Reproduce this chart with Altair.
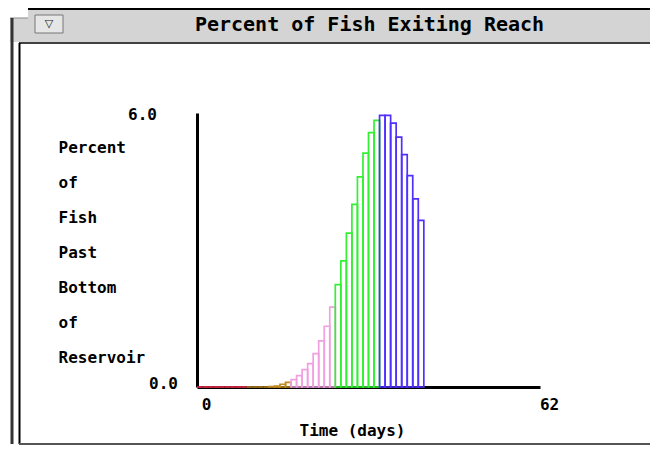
import altair as alt
import pandas as pd

# ---- data ----
days = [0, 1, 2, 3, 4, 5, 6, 7, 8, 9, 10, 11, 12, 13, 14, 15, 16, 17, 18, 19, 20,
        21, 22, 23, 24, 25, 26, 27, 28, 29, 30, 31, 32, 33, 34, 35, 36, 37, 38, 39, 40]
percent = [0.0, 0.0, 0.0, 0.0, 0.0, 0.0, 0.0, 0.0, 0.0, 0.0, 0.0, 0.0, 0.0, 0.01, 0.02,
           0.06, 0.10,
           0.16, 0.25, 0.38, 0.51, 0.73, 1.01, 1.33, 1.75,
           2.24, 2.76, 3.37, 4.00, 4.60, 5.12, 5.57, 5.84,
           5.95, 5.95, 5.78, 5.47, 5.09, 4.63, 4.12, 3.65]
stage = ["a", "a", "a", "a", "a", "a", "a", "a", "a",
         "b", "b", "b", "b", "b", "b", "b", "b",
         "c", "c", "c", "c", "c", "c", "c", "c",
         "d", "d", "d", "d", "d", "d", "d", "d",
         "e", "e", "e", "e", "e", "e", "e", "e"]
stage_names = ["a", "b", "c", "d", "e"]
stage_colors = ["#ff3055", "#c08a20", "#f0a0e0", "#33f033", "#5030ff"]

x_ticks = [0, 62]
y_tick_values = [0.0, 6.0]
y_tick_labels = ["0.0", "6.0"]
y_title_lines = ["Percent", "of", "Fish", "Past", "Bottom", "of", "Reservoir"]
x_title = "Time (days)"
chart_title = "Percent of Fish Exiting Reach"

FONT = "DejaVu Sans Mono"
FS = 16
W, H = 343, 274

df = pd.DataFrame({"day": days, "pct": percent, "stage": stage})
one = pd.DataFrame({"k": [0]})

xscale = alt.Scale(domain=[0, 62], nice=False, zero=True)
yscale = alt.Scale(domain=[0, 6], nice=False, zero=True)

y_axis = alt.Axis(
    values=y_tick_values, ticks=False, grid=False, labels=False,
    domainColor="black", domainWidth=3,
    title=y_title_lines, titleFont=FONT, titleFontWeight="bold", titleFontSize=FS,
    titleColor="black", titleAngle=0, titleAlign="left", titleBaseline="alphabetic",
    titleX=-139, titleY=39, titleLineHeight=35)

bars = alt.Chart(df).transform_calculate(
    day_end="datum.day + 1"
).mark_rect(fillOpacity=0, strokeWidth=1.7).encode(
    x=alt.X("day:Q", scale=xscale, axis=alt.Axis(
        values=x_ticks, format="d", ticks=False, grid=False,
        domainColor="black", domainWidth=3,
        labelFont=FONT, labelFontWeight="bold", labelFontSize=FS, labelColor="black",
        labelOffset=9, labelPadding=17, labelBaseline="middle", labelFlush=False,
        title=x_title, titleFont=FONT, titleFontWeight="bold", titleFontSize=FS,
        titleColor="black", titleX=155, titleY=48, titleBaseline="alphabetic",
        titleAlign="center")),
    x2="day_end:Q",
    y=alt.Y("pct:Q", scale=yscale, axis=y_axis),
    y2=alt.datum(0),
    stroke=alt.Stroke("stage:N", scale=alt.Scale(domain=stage_names, range=stage_colors),
                      legend=None),
)

ylab = pd.DataFrame({"v": y_tick_values, "t": y_tick_labels})
ylab_top = alt.Chart(ylab).transform_filter("datum.v > 0").mark_text(
    align="right", baseline="middle", font=FONT, fontWeight="bold", fontSize=FS,
    color="black", dy=2
).encode(x=alt.value(-40), y=alt.Y("v:Q", scale=yscale, axis=y_axis), text="t:N")
ylab_bot = alt.Chart(ylab).transform_filter("datum.v == 0").mark_text(
    align="right", baseline="middle", font=FONT, fontWeight="bold", fontSize=FS,
    color="black", dy=-3
).encode(x=alt.value(-19), y=alt.Y("v:Q", scale=yscale, axis=y_axis), text="t:N")


def deco_rect(x, x2, y, y2, fill, stroke=None, sw=0):
    kw = dict(fill=fill)
    if stroke is not None:
        kw.update(stroke=stroke, strokeWidth=sw)
    return alt.Chart(one).mark_rect(**kw).encode(
        x=alt.value(x), x2=alt.value(x2), y=alt.value(y), y2=alt.value(y2))


def deco_rule(x, x2, y, y2, color, w):
    return alt.Chart(one).mark_rule(color=color, strokeWidth=w).encode(
        x=alt.value(x), x2=alt.value(x2), y=alt.value(y), y2=alt.value(y2))


# window chrome (plot-area coordinates: origin at page (197, 113))
title_bar = deco_rect(-169, 453, -105, -71, "#d4d4d4")
title_step = deco_rect(-187, -169, -95, -71, "#d4d4d4")
top_line = deco_rule(-169, 453, -104, -104, "black", 2)
step_line = deco_rule(-187, -169, -95, -95, "#888888", 1)
under_line = deco_rule(-178, 453, -70, -70, "black", 1.5)
outer_left = deco_rule(-185, -185, -95, 331, "#333333", 3)
inner_left = deco_rule(-177.5, -177.5, -70, 331, "black", 2)
bottom_line = deco_rule(-178, 453, 331, 331, "#555555", 2)
button = deco_rect(-162, -134, -98, -80, "#e6e6e6", "#777777", 1)

button_txt = alt.Chart(pd.DataFrame({"t": ["\u25bd"]})).mark_text(
    align="center", baseline="middle", fontSize=11, font="DejaVu Sans", color="#222222"
).encode(x=alt.value(-148), y=alt.value(-89), text="t:N")

title_txt = alt.Chart(pd.DataFrame({"t": [chart_title]})).mark_text(
    align="center", baseline="alphabetic", font=FONT, fontWeight="bold", fontSize=20,
    color="black"
).encode(x=alt.value(172.5), y=alt.value(-82), text="t:N")

chart = alt.layer(
    title_bar, title_step, top_line, step_line, under_line, outer_left, inner_left,
    bottom_line, button, button_txt, title_txt,
    bars, ylab_top, ylab_bot
).properties(
    width=W, height=H,
    padding={"left": 189, "top": 105, "right": 110, "bottom": 58},
    autosize=alt.AutoSizeParams(type="none"),
    background="white",
).configure_view(stroke=None)

chart.save("out.html", embed_options={"renderer": "svg", "actions": False})
